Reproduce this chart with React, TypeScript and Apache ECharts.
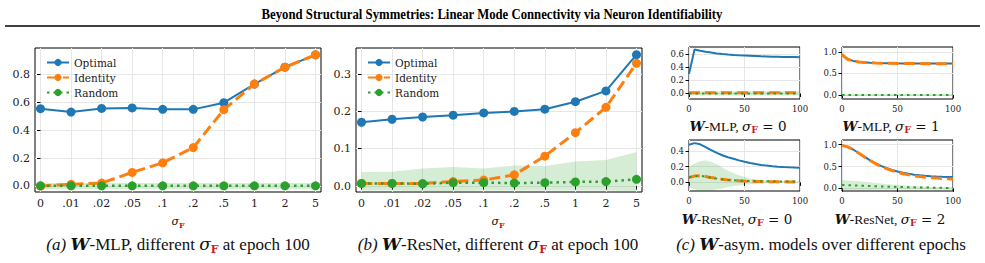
import React, { useEffect, useRef } from 'react';
import * as echarts from 'echarts';

// ---------- data ----------
const sigmaLabels = ['0', '.01', '.02', '.05', '.1', '.2', '.5', '1', '2', '5'];
const sigmaIdx = [0, 1, 2, 3, 4, 5, 6, 7, 8, 9];

const optimalA = [0.553, 0.529, 0.555, 0.558, 0.548, 0.548, 0.596, 0.729, 0.85, 0.938];
const identityA = [0.0, 0.012, 0.021, 0.097, 0.166, 0.275, 0.546, 0.729, 0.85, 0.938];
const randomA = [0.001, 0.001, 0.001, 0.001, 0.001, 0.001, 0.001, 0.001, 0.001, 0.001];
const bandLoA = [-0.024, -0.024, -0.024, -0.024, -0.024, -0.024, -0.024, -0.024, -0.024, -0.024];
const bandHiA = [0.021, 0.021, 0.021, 0.021, 0.021, 0.021, 0.021, 0.021, 0.021, 0.021];

const optimalB = [0.171, 0.179, 0.185, 0.19, 0.196, 0.2, 0.206, 0.226, 0.255, 0.352];
const identityB = [0.007, 0.007, 0.007, 0.012, 0.016, 0.03, 0.08, 0.143, 0.211, 0.329];
const randomB = [0.007, 0.007, 0.006, 0.009, 0.009, 0.008, 0.009, 0.011, 0.012, 0.018];
const bandLoB = [-0.012, -0.012, -0.013, -0.013, -0.012, -0.012, -0.012, -0.012, -0.012, -0.013];
const bandHiB = [0.0375, 0.038, 0.047, 0.051, 0.047, 0.055, 0.054, 0.066, 0.07, 0.091];

const epochs = [0, 5, 10, 15, 20, 25, 30, 35, 40, 45, 50, 55, 60, 65, 70, 75, 80, 85, 90, 95, 100];

const c1Optimal = [0.3, 0.675, 0.655, 0.64, 0.626, 0.614, 0.604, 0.596, 0.59, 0.585, 0.581, 0.577, 0.573, 0.569, 0.566, 0.563, 0.561, 0.559, 0.558, 0.557, 0.556];
const c1Identity = [0.012, 0.012, 0.012, 0.012, 0.012, 0.012, 0.012, 0.012, 0.012, 0.012, 0.012, 0.012, 0.012, 0.012, 0.012, 0.012, 0.012, 0.012, 0.012, 0.012, 0.012];
const c1Random = [0.001, 0.001, 0.001, 0.001, 0.001, 0.001, 0.001, 0.001, 0.001, 0.001, 0.001, 0.001, 0.001, 0.001, 0.001, 0.001, 0.001, 0.001, 0.001, 0.001, 0.001];
const c1BandLo = [-0.03, -0.03, -0.03, -0.03, -0.03, -0.03, -0.03, -0.03, -0.03, -0.03, -0.03, -0.03, -0.03, -0.03, -0.03, -0.03, -0.03, -0.03, -0.03, -0.03, -0.03];
const c1BandHi = [0.035, 0.035, 0.035, 0.035, 0.035, 0.035, 0.035, 0.035, 0.035, 0.035, 0.035, 0.035, 0.035, 0.035, 0.035, 0.035, 0.035, 0.035, 0.035, 0.035, 0.035];

const c2Optimal = [0.945, 0.835, 0.792, 0.772, 0.76, 0.752, 0.746, 0.742, 0.739, 0.737, 0.735, 0.734, 0.733, 0.732, 0.732, 0.731, 0.731, 0.73, 0.73, 0.73, 0.73];
const c2Identity = [0.94, 0.83, 0.788, 0.768, 0.757, 0.749, 0.744, 0.74, 0.737, 0.735, 0.733, 0.732, 0.731, 0.73, 0.73, 0.729, 0.729, 0.728, 0.728, 0.728, 0.728];
const c2Random = [0.001, 0.001, 0.001, 0.001, 0.001, 0.001, 0.001, 0.001, 0.001, 0.001, 0.001, 0.001, 0.001, 0.001, 0.001, 0.001, 0.001, 0.001, 0.001, 0.001, 0.001];
const c2BandLo = [-0.02, -0.02, -0.02, -0.02, -0.02, -0.02, -0.02, -0.02, -0.02, -0.02, -0.02, -0.02, -0.02, -0.02, -0.02, -0.02, -0.02, -0.02, -0.02, -0.02, -0.02];
const c2BandHi = [0.022, 0.022, 0.022, 0.022, 0.022, 0.022, 0.022, 0.022, 0.022, 0.022, 0.022, 0.022, 0.022, 0.022, 0.022, 0.022, 0.022, 0.022, 0.022, 0.022, 0.022];

const c3Optimal = [0.48, 0.5, 0.485, 0.45, 0.41, 0.375, 0.345, 0.32, 0.3, 0.28, 0.262, 0.246, 0.233, 0.222, 0.213, 0.206, 0.2, 0.195, 0.191, 0.188, 0.186];
const c3Identity = [0.06, 0.08, 0.085, 0.075, 0.06, 0.048, 0.038, 0.031, 0.025, 0.02, 0.016, 0.013, 0.011, 0.009, 0.008, 0.007, 0.006, 0.006, 0.005, 0.005, 0.005];
const c3Random = [0.065, 0.08, 0.083, 0.072, 0.058, 0.047, 0.038, 0.031, 0.026, 0.022, 0.019, 0.017, 0.015, 0.014, 0.013, 0.012, 0.011, 0.011, 0.01, 0.01, 0.01];
const c3BandLo = [-0.07, -0.09, -0.11, -0.11, -0.1, -0.09, -0.08, -0.06, -0.05, -0.04, -0.03, -0.025, -0.02, -0.015, -0.012, -0.01, -0.008, -0.007, -0.006, -0.005, -0.005];
const c3BandHi = [0.2, 0.24, 0.27, 0.28, 0.26, 0.23, 0.19, 0.15, 0.12, 0.09, 0.07, 0.05, 0.04, 0.03, 0.025, 0.02, 0.018, 0.016, 0.015, 0.014, 0.013];

const c4Optimal = [0.985, 0.95, 0.89, 0.81, 0.725, 0.645, 0.575, 0.515, 0.465, 0.42, 0.385, 0.355, 0.332, 0.313, 0.298, 0.287, 0.278, 0.271, 0.266, 0.262, 0.26];
const c4Identity = [0.985, 0.95, 0.89, 0.81, 0.725, 0.64, 0.568, 0.505, 0.452, 0.405, 0.368, 0.335, 0.308, 0.287, 0.27, 0.256, 0.244, 0.234, 0.226, 0.219, 0.213];
const c4Random = [0.075, 0.072, 0.068, 0.063, 0.058, 0.053, 0.048, 0.043, 0.039, 0.035, 0.031, 0.028, 0.025, 0.022, 0.019, 0.017, 0.015, 0.013, 0.011, 0.009, 0.008];
const c4BandLo = [-0.04, -0.04, -0.04, -0.04, -0.04, -0.038, -0.036, -0.034, -0.032, -0.03, -0.03, -0.03, -0.03, -0.03, -0.03, -0.03, -0.03, -0.03, -0.03, -0.03, -0.03];
const c4BandHi = [0.19, 0.18, 0.17, 0.16, 0.15, 0.14, 0.12, 0.11, 0.095, 0.085, 0.075, 0.065, 0.058, 0.05, 0.045, 0.04, 0.036, 0.033, 0.03, 0.028, 0.026];

const yTicksA = [0, 0.2, 0.4, 0.6, 0.8];
const yTicksB = [0, 0.1, 0.2, 0.3];
const yTicksC1 = [0, 0.2, 0.4, 0.6];
const yTicksC2 = [0, 0.5, 1.0];
const yTicksC3 = [0, 0.2, 0.4];
const yTicksC4 = [0, 0.5, 1.0];
const epochTicks = [0, 50, 100];

const legendNames = ['Optimal', 'Identity', 'Random'];

// ---------- styles ----------
const BLUE = '#1f77b4';
const ORANGE = '#ff7f0e';
const GREEN = '#2ca02c';
const BAND = 'rgba(44,160,44,0.2)';
const RED = '#c8202a';
const TICKF = 'DejaVu Serif';
const TEXTF = 'Liberation Serif';
const GRIDC = '#e6e6e6';

const pairs = (xs: number[], ys: number[]) => ys.map((v, i) => [xs[i], v]);

function bandSeries(k: number, xs: number[], lo: number[], hi: number[]) {
  return {
    type: 'custom', name: 'band' + k, xAxisIndex: k, yAxisIndex: k, silent: true, z: 1,
    data: pairs(xs, hi),
    renderItem: (params: any, api: any) => {
      if (params.dataIndex !== 0) return null;
      const top = xs.map((x, i) => api.coord([x, hi[i]]));
      const bot = xs.map((x, i) => api.coord([x, lo[i]])).reverse();
      const cs = params.coordSys;
      return {
        type: 'polygon',
        shape: { points: top.concat(bot) },
        style: { fill: BAND },
        clipPath: { type: 'rect', shape: { x: cs.x, y: cs.y, width: cs.width, height: cs.height } },
      };
    },
  };
}

function lineSeries(k: number, xs: number[], opt: number[], idt: number[], rnd: number[], markers: boolean) {
  const sym = markers ? { symbol: 'circle', symbolSize: 9, showSymbol: true } : { symbol: 'none', showSymbol: false };
  return [
    { type: 'line', name: 'Optimal', xAxisIndex: k, yAxisIndex: k, data: pairs(xs, opt), z: 3, ...sym,
      itemStyle: { color: BLUE, borderWidth: 0 }, lineStyle: { color: BLUE, width: 2 } },
    { type: 'line', name: 'Identity', xAxisIndex: k, yAxisIndex: k, data: pairs(xs, idt), z: 4, ...sym,
      itemStyle: { color: ORANGE, borderWidth: 0 }, lineStyle: { color: ORANGE, width: 3, type: [11, 5] } },
    { type: 'line', name: 'Random', xAxisIndex: k, yAxisIndex: k, data: pairs(xs, rnd), z: 5, ...sym,
      itemStyle: { color: GREEN, borderWidth: 0 }, lineStyle: { color: GREEN, width: markers ? 2.5 : 2, type: [2.5, 4] } },
  ];
}

function yAxis(k: number, min: number, max: number, ticks: number[], fs: number) {
  return {
    type: 'value', gridIndex: k, min, max,
    axisLine: { show: false },
    axisTick: { show: true, length: 3.5, lineStyle: { color: '#000', width: 1 }, customValues: ticks },
    axisLabel: { customValues: ticks, formatter: (v: number) => v.toFixed(1), fontFamily: TICKF, fontSize: fs, color: '#222', margin: 5 },
    splitLine: { show: true, lineStyle: { color: GRIDC, width: 1 } },
  };
}

function xAxisSigma(k: number) {
  return {
    type: 'value', gridIndex: k, min: -0.18, max: 9.18,
    axisLine: { show: false },
    axisTick: { show: true, length: 3.5, lineStyle: { color: '#000', width: 1 }, customValues: sigmaIdx },
    axisLabel: { customValues: sigmaIdx, formatter: (v: number) => sigmaLabels[Math.round(v)], fontFamily: TICKF, fontSize: 11, color: '#222', margin: 6 },
    splitLine: { show: true, lineStyle: { color: GRIDC, width: 1 } },
  };
}

function xAxisEpoch(k: number) {
  return {
    type: 'value', gridIndex: k, min: 0, max: 100, interval: 50,
    axisLine: { show: false },
    axisTick: { show: true, length: 3.5, lineStyle: { color: '#000', width: 1 }, customValues: epochTicks },
    axisLabel: { customValues: epochTicks, fontFamily: TICKF, fontSize: 8.5, color: '#222', margin: 5 },
    splitLine: { show: true, lineStyle: { color: GRIDC, width: 1 } },
  };
}

const gridBase = { show: true, borderColor: '#000', borderWidth: 1, backgroundColor: 'transparent', containLabel: false, outerBoundsMode: 'none' };

function richDefs(size: number, subSize: number, lh: number) {
  return {
    it: { fontFamily: TEXTF, fontStyle: 'italic', fontSize: size, lineHeight: lh, fill: '#111' },
    n: { fontFamily: TEXTF, fontSize: size, lineHeight: lh, fill: '#111' },
    bw: { fontFamily: TICKF, fontStyle: 'italic', fontWeight: 'bold', fontSize: size, lineHeight: lh, fill: '#111' },
    sg: { fontFamily: TICKF, fontStyle: 'italic', fontSize: size, lineHeight: lh, fill: '#111' },
    m: { fontFamily: TICKF, fontSize: size, lineHeight: lh, fill: '#111' },
    sub: { fontFamily: TICKF, fontWeight: 'bold', fontSize: subSize, lineHeight: subSize + 1, fill: RED, verticalAlign: 'bottom' },
  };
}

function richText(x: number, y: number, text: string, size: number, subSize: number) {
  return {
    type: 'text', x, y, silent: true,
    style: { text, align: 'center', verticalAlign: 'middle', rich: richDefs(size, subSize, size + 4), fontSize: size, fontFamily: TEXTF, fill: '#111' },
  };
}

function buildOption() {
  const legendBase = {
    data: legendNames, orient: 'vertical', top: 52, itemWidth: 22, itemHeight: 9, itemGap: 4, selectedMode: false,
    textStyle: { fontFamily: TICKF, fontSize: 10.5, color: '#222' },
  };
  return {
    animation: false,
    backgroundColor: '#fff',
    textStyle: { fontFamily: TICKF },
    grid: [
      { ...gridBase, left: 35, top: 48, width: 286, height: 144 },
      { ...gridBase, left: 356, top: 48, width: 286, height: 144 },
      { ...gridBase, left: 689, top: 47, width: 111, height: 52 },
      { ...gridBase, left: 842, top: 47, width: 111, height: 52 },
      { ...gridBase, left: 689, top: 140, width: 111, height: 51 },
      { ...gridBase, left: 842, top: 140, width: 111, height: 51 },
    ],
    xAxis: [xAxisSigma(0), xAxisSigma(1), xAxisEpoch(2), xAxisEpoch(3), xAxisEpoch(4), xAxisEpoch(5)],
    yAxis: [
      yAxis(0, -0.043, 0.987, yTicksA, 11),
      yAxis(1, -0.016, 0.37, yTicksB, 11),
      yAxis(2, -0.085, 0.712, yTicksC1, 8.5),
      yAxis(3, -0.092, 1.115, yTicksC2, 8.5),
      yAxis(4, -0.111, 0.54, yTicksC3, 8.5),
      yAxis(5, -0.062, 1.108, yTicksC4, 8.5),
    ],
    legend: [
      { ...legendBase, left: 41 },
      { ...legendBase, left: 362 },
    ],
    series: [
      bandSeries(0, sigmaIdx, bandLoA, bandHiA),
      ...lineSeries(0, sigmaIdx, optimalA, identityA, randomA, true),
      bandSeries(1, sigmaIdx, bandLoB, bandHiB),
      ...lineSeries(1, sigmaIdx, optimalB, identityB, randomB, true),
      bandSeries(2, epochs, c1BandLo, c1BandHi),
      ...lineSeries(2, epochs, c1Optimal, c1Identity, c1Random, false),
      bandSeries(3, epochs, c2BandLo, c2BandHi),
      ...lineSeries(3, epochs, c2Optimal, c2Identity, c2Random, false),
      bandSeries(4, epochs, c3BandLo, c3BandHi),
      ...lineSeries(4, epochs, c3Optimal, c3Identity, c3Random, false),
      bandSeries(5, epochs, c4BandLo, c4BandHi),
      ...lineSeries(5, epochs, c4Optimal, c4Identity, c4Random, false),
    ],
    graphic: [
      { type: 'text', x: 492, y: 14, scaleX: 0.85, silent: true,
        style: { text: 'Beyond Structural Symmetries: Linear Mode Connectivity via Neuron Identifiability', align: 'center', verticalAlign: 'middle',
          fontFamily: TEXTF, fontWeight: 'bold', fontSize: 15, fill: '#000' } },
      { type: 'line', silent: true, shape: { x1: 5, y1: 26, x2: 980, y2: 26 }, style: { stroke: '#000', lineWidth: 1.5 } },
      richText(178, 221, '{sg|σ}{sub|F}', 11, 8),
      richText(498, 221, '{sg|σ}{sub|F}', 11, 8),
      richText(738, 126, '{bw|W}{n|-MLP, }{sg|σ}{sub|F}{m| = 0}', 13.5, 9.5),
      richText(891, 126, '{bw|W}{n|-MLP, }{sg|σ}{sub|F}{m| = 1}', 13.5, 9.5),
      richText(737, 219, '{bw|W}{n|-ResNet, }{sg|σ}{sub|F}{m| = 0}', 13.5, 9.5),
      richText(890, 219, '{bw|W}{n|-ResNet, }{sg|σ}{sub|F}{m| = 2}', 13.5, 9.5),
      richText(178, 244, '{it|(a) }{bw|W}{n|-MLP, different }{sg|σ}{sub|F}{n| at epoch 100}', 17, 11),
      richText(498, 244, '{it|(b) }{bw|W}{n|-ResNet, different }{sg|σ}{sub|F}{n| at epoch 100}', 17, 11),
      richText(821, 244, '{it|(c) }{bw|W}{n|-asym. models over different epochs}', 17, 11),
    ],
  };
}

export default function App() {
  const ref = useRef<HTMLDivElement>(null);
  useEffect(() => {
    if (!ref.current) return;
    const chart = echarts.init(ref.current, null, { renderer: 'svg' });
    chart.setOption(buildOption() as any);
    return () => chart.dispose();
  }, []);
  return <div ref={ref} style={{ position: 'absolute', left: 0, top: 0, width: 985, height: 263, background: '#fff' }} />;
}
